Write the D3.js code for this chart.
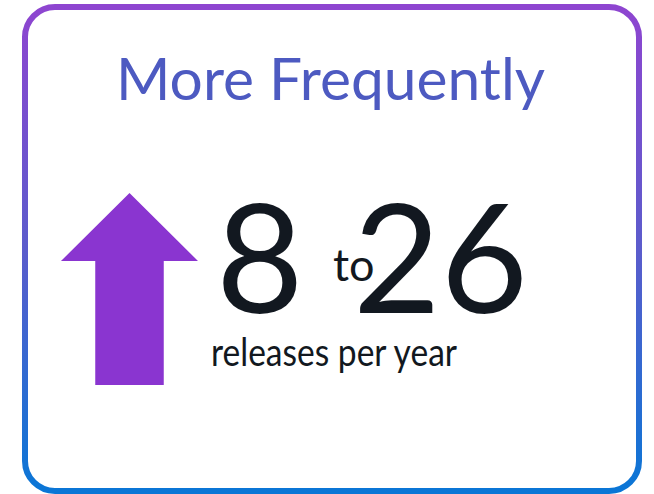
<!DOCTYPE html>
<html>
<head>
<meta charset="utf-8">
<script src="https://cdn.jsdelivr.net/npm/d3@7"></script>
<style>
  body { margin: 0; background: #fff; }
  svg { display: block; }
</style>
</head>
<body>
<svg id="chart"></svg>
<script>
const titleText = ["More Frequently"]
const releaseRange = [8, 26]
const joinWord = ["to"]
const unitText = ["releases per year"]
// arrow outline, in unit box coords (0..1)
const arrowShape = [[0.5, 0], [1, 0.35], [0.75, 0.35], [0.75, 1], [0.25, 1], [0.25, 0.35], [0, 0.35]]

const width = 654
const height = 494

const svg = d3.select("#chart")
  .attr("width", width)
  .attr("height", height)

const defs = svg.append("defs")
const grad = defs.append("linearGradient")
  .attr("id", "borderGrad")
  .attr("x1", 0).attr("y1", 0).attr("x2", 0).attr("y2", 1)
grad.append("stop").attr("offset", "0%").attr("stop-color", "#8e45d0")
grad.append("stop").attr("offset", "50%").attr("stop-color", "#5b5ccc")
grad.append("stop").attr("offset", "100%").attr("stop-color", "#0a76d6")

// card border
svg.append("rect")
  .attr("x", 25).attr("y", 7)
  .attr("width", 614).attr("height", 484)
  .attr("rx", 30).attr("ry", 30)
  .attr("fill", "#fff")
  .attr("stroke", "url(#borderGrad)")
  .attr("stroke-width", 6)

// title
svg.selectAll("text.title")
  .data(titleText)
  .join("text")
  .attr("class", "title")
  .attr("x", 116).attr("y", 100)
  .attr("textLength", 429)
  .attr("lengthAdjust", "spacingAndGlyphs")
  .style("font-family", "Lato, 'Open Sans', sans-serif")
  .style("font-size", "58px")
  .attr("fill", "#4d5ac1")
  .text(d => d)

// arrow
const ax = d3.scaleLinear().domain([0, 1]).range([61, 198])
const ay = d3.scaleLinear().domain([0, 1]).range([193, 385])
const headY = d3.scaleLinear().domain([0, 0.35]).range([193, 261])
const line = d3.line()
  .x(d => ax(d[0]))
  .y(d => d[1] <= 0.35 ? headY(d[1]) : ay(d[1]))
svg.append("path")
  .attr("d", line(arrowShape) + "Z")
  .attr("fill", "#8a35d0")

// numbers
const numX = d3.scaleOrdinal().domain(releaseRange).range([216, 353])
svg.selectAll("text.num")
  .data(releaseRange)
  .join("text")
  .attr("class", "num")
  .attr("x", d => numX(d))
  .attr("y", 313)
  .style("font-family", "Lato, 'Open Sans', sans-serif")
  .style("font-size", "151px")
  .attr("fill", "#121820")
  .text(d => d)

svg.selectAll("text.join")
  .data(joinWord)
  .join("text")
  .attr("class", "join")
  .attr("x", 333).attr("y", 281)
  .style("font-family", "Lato, 'Open Sans', sans-serif")
  .style("font-size", "45px")
  .attr("fill", "#121820")
  .text(d => d)

svg.selectAll("text.unit")
  .data(unitText)
  .join("text")
  .attr("class", "unit")
  .attr("x", 211).attr("y", 366)
  .attr("textLength", 246)
  .attr("lengthAdjust", "spacingAndGlyphs")
  .style("font-family", "Lato, 'Open Sans', sans-serif")
  .style("font-size", "38px")
  .attr("fill", "#121820")
  .text(d => d)
</script>
</body>
</html>
